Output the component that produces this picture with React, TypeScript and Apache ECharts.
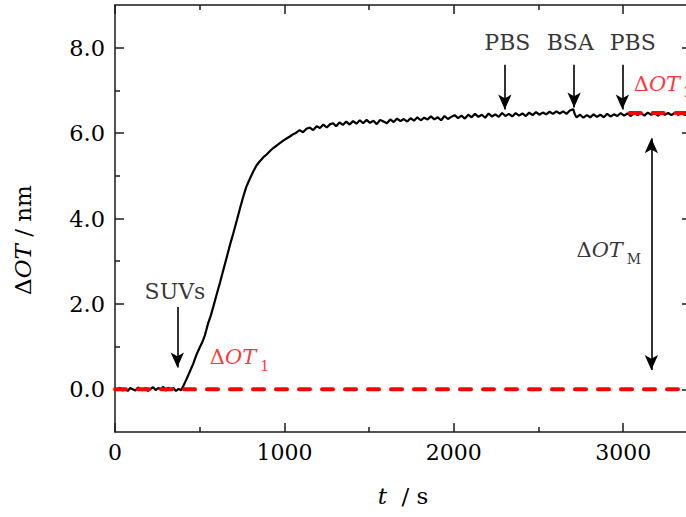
import React, { useEffect, useRef } from "react";
import * as echarts from "echarts";

// ---- data ----
const timeS = [
  0, 15, 30, 45, 60, 75, 90, 105, 120, 135, 150, 165, 180, 195, 210, 225, 240, 255, 270, 285, 300, 315, 330, 345, 360, 375, 390,
  400, 420, 440, 462, 480, 500, 515, 531, 550, 565, 580, 600, 620, 639, 660, 680, 698, 720, 740, 757, 775, 796, 816, 835, 855,
  875, 895, 915, 934, 955, 975, 995, 1015, 1032, 1050, 1070, 1090, 1110, 1130, 1150, 1170, 1190, 1210, 1230, 1250, 1270, 1288,
  1305, 1325, 1345, 1365, 1385, 1405, 1425, 1445, 1465, 1485, 1505, 1525, 1545, 1565, 1585, 1605, 1625, 1645, 1665, 1685, 1705,
  1725, 1745, 1765, 1785, 1805, 1825, 1845, 1865, 1885, 1905, 1925, 1945, 1965, 1985, 2005, 2025, 2045, 2065, 2085, 2105, 2125,
  2145, 2165, 2185, 2205, 2225, 2245, 2265, 2285, 2305, 2325, 2345, 2365, 2385, 2405, 2425, 2445, 2465, 2485, 2505, 2525, 2545,
  2565, 2585, 2605, 2625, 2645, 2665, 2685, 2705, 2715, 2725, 2745, 2765, 2785, 2805, 2825, 2845, 2865, 2885, 2905, 2925, 2945,
  2965, 2985, 3005, 3025, 3045, 3065, 3085, 3105, 3125, 3145, 3165, 3185, 3205, 3225, 3245, 3265, 3285, 3305, 3325, 3345, 3365,
  3385, 3400,
];
const deltaOT = [
  0.02, -0.02, 0.04, -0.03, 0.01, -0.04, 0.03, 0.0, -0.03, 0.04, 0.01, -0.02, 0.03, -0.04, 0.01, 0.05, -0.02, 0.03, 0.0, 0.06, -0.03, 0.04, 0.0, 0.03, -0.04, 0.01, -0.02,
  0.05, 0.22, 0.4, 0.6, 0.8, 0.98, 1.1, 1.27, 1.55, 1.72, 1.93, 2.22, 2.5, 2.79, 3.1, 3.4, 3.65, 3.97, 4.27, 4.51, 4.74, 4.93, 5.1, 5.24, 5.34,
  5.43, 5.5, 5.58, 5.65, 5.71, 5.77, 5.83, 5.88, 5.92, 5.97, 6.01, 6.07, 6.02, 6.1, 6.13, 6.07, 6.16, 6.12, 6.2, 6.13, 6.21, 6.23,
  6.16, 6.25, 6.19, 6.27, 6.2, 6.28, 6.22, 6.3, 6.23, 6.31, 6.24, 6.29, 6.21, 6.31, 6.27, 6.23, 6.32, 6.26, 6.34, 6.28, 6.33,
  6.27, 6.35, 6.29, 6.37, 6.3, 6.36, 6.32, 6.39, 6.32, 6.37, 6.3, 6.4, 6.33, 6.38, 6.42, 6.35, 6.41, 6.34, 6.43, 6.37, 6.45,
  6.38, 6.43, 6.36, 6.46, 6.39, 6.44, 6.38, 6.47, 6.4, 6.45, 6.39, 6.47, 6.41, 6.46, 6.4, 6.48, 6.42, 6.49, 6.43, 6.48, 6.44,
  6.5, 6.45, 6.51, 6.46, 6.51, 6.45, 6.53, 6.56, 6.43, 6.37, 6.43, 6.36, 6.42, 6.37, 6.44, 6.38, 6.43, 6.37, 6.45, 6.39, 6.44,
  6.4, 6.47, 6.41, 6.46, 6.4, 6.48, 6.42, 6.47, 6.41, 6.48, 6.43, 6.47, 6.41, 6.48, 6.43, 6.47, 6.42, 6.48, 6.43, 6.47, 6.42,
  6.47, 6.44,
];

const xMajorTicks = [0, 1000, 2000, 3000];
const xMinorTicks = [500, 1500, 2500];
const yMajorTicks = [0, 2, 4, 6, 8];
const yMinorTicks = [1, 3, 5, 7];

const baselineLevel1 = [[0, 0], [3400, 0]];
const baselineLevel2 = [[3038, 6.47], [3400, 6.47]];

// arrows: x, from y, to y, double-headed?
const arrowX = [368, 2301, 2710, 2995, 3166];
const arrowFrom = [1.93, 7.6, 7.6, 7.6, 5.88];
const arrowTo = [0.51, 6.55, 6.6, 6.55, 0.45];
const arrowDouble = [false, false, false, false, true];

const plainLabelText = ["SUVs", "PBS", "BSA", "PBS"];
const plainLabelX = [354, 2316, 2687, 3056];
const plainLabelY = [2.28, 8.12, 8.12, 8.12];

const deltaLabelSub = ["1", "2", "M"];
const deltaLabelX = [560, 3062, 2724];
const deltaLabelY = [1.0, 7.4, 3.5];
const deltaLabelRed = [true, true, false];

const FONT = "DejaVu Serif";
const RED = "#ff0000";
const INK = "#000";

function deltaRich(color: string) {
  return {
    d: { fontFamily: FONT, fontSize: 21, color, lineHeight: 26, verticalAlign: "top" },
    i: { fontFamily: FONT, fontSize: 21, fontStyle: "italic", color, lineHeight: 26, verticalAlign: "top" },
    s: { fontFamily: FONT, fontSize: 14, color, lineHeight: 14, padding: [18, 0, 0, 4], verticalAlign: "bottom" },
  };
}

export default function App() {
  const ref = useRef<HTMLDivElement>(null);
  useEffect(() => {
    if (!ref.current) return;
    const chart = echarts.init(ref.current, null, { renderer: "svg" });
    const lineData = timeS.map((t, i) => [t, deltaOT[i]]);
    const axisLineStyle = { color: "#1a1a1a", width: 1.5 };

    const xBase = { type: "value", min: 0, max: 3400, gridIndex: 0, splitLine: { show: false } };
    const yBase = { type: "value", min: -1, max: 9, gridIndex: 0, splitLine: { show: false } };

    const markData = arrowX.map((x, i) => [
      { coord: [x, arrowFrom[i]], symbol: arrowDouble[i] ? "arrow" : "none" },
      { coord: [x, arrowTo[i]], symbol: "arrow" },
    ]);

    const labelItems: any[] = [];
    plainLabelText.forEach((t, i) => {
      labelItems.push({
        value: [plainLabelX[i], plainLabelY[i]],
        label: {
          show: true,
          position: "inside",
          formatter: t,
          fontFamily: FONT,
          fontSize: 22,
          color: INK,
        },
      });
    });
    deltaLabelSub.forEach((s, i) => {
      const color = deltaLabelRed[i] ? RED : INK;
      labelItems.push({
        value: [deltaLabelX[i], deltaLabelY[i]],
        label: {
          show: true,
          position: [0, 0],
          align: "left",
          verticalAlign: "top",
          formatter: `{d|Δ}{i|OT}{s|${s}}`,
          rich: deltaRich(color),
        },
      });
    });

    const option: any = {
      animation: false,
      backgroundColor: "#fff",
      grid: { left: 115, right: -5, top: 5, bottom: 85, containLabel: false, outerBoundsMode: "none" },
      xAxis: [
        {
          ...xBase,
          position: "bottom",
          axisLine: { show: true, onZero: false, lineStyle: axisLineStyle },
          axisTick: { show: true, inside: true, length: 9, customValues: xMajorTicks, lineStyle: axisLineStyle },
          axisLabel: {
            show: true,
            customValues: xMajorTicks,
            margin: 9,
            fontFamily: FONT,
            fontSize: 22,
            color: INK,
            formatter: (v: number) => String(v),
          },
          name: "{i|t}{n|  / s}",
          nameLocation: "middle",
          nameGap: 52,
          nameTextStyle: {
            rich: {
              i: { fontFamily: FONT, fontSize: 23, fontStyle: "italic", color: INK },
              n: { fontFamily: FONT, fontSize: 23, color: INK },
            },
          },
        },
        {
          ...xBase,
          position: "bottom",
          axisLine: { show: false, onZero: false },
          axisTick: { show: true, inside: true, length: 5, customValues: xMinorTicks, lineStyle: axisLineStyle },
          axisLabel: { show: false },
        },
        {
          ...xBase,
          position: "top",
          axisLine: { show: true, onZero: false, lineStyle: axisLineStyle },
          axisTick: { show: true, inside: true, length: 9, customValues: xMajorTicks, lineStyle: axisLineStyle },
          axisLabel: { show: false },
        },
        {
          ...xBase,
          position: "top",
          axisLine: { show: false, onZero: false },
          axisTick: { show: true, inside: true, length: 5, customValues: xMinorTicks, lineStyle: axisLineStyle },
          axisLabel: { show: false },
        },
      ],
      yAxis: [
        {
          ...yBase,
          position: "left",
          axisLine: { show: true, onZero: false, lineStyle: axisLineStyle },
          axisTick: { show: true, inside: true, length: 9, customValues: yMajorTicks, lineStyle: axisLineStyle },
          axisLabel: {
            show: true,
            customValues: yMajorTicks,
            margin: 10,
            fontFamily: FONT,
            fontSize: 22.5,
            color: INK,
            formatter: (v: number) => v.toFixed(1),
          },
        },
        {
          ...yBase,
          position: "left",
          axisLine: { show: false, onZero: false },
          axisTick: { show: true, inside: true, length: 5, customValues: yMinorTicks, lineStyle: axisLineStyle },
          axisLabel: { show: false },
        },
        {
          ...yBase,
          position: "right",
          axisLine: { show: true, onZero: false, lineStyle: axisLineStyle },
          axisTick: { show: true, inside: true, length: 9, customValues: yMajorTicks, lineStyle: axisLineStyle },
          axisLabel: { show: false },
        },
        {
          ...yBase,
          position: "right",
          axisLine: { show: false, onZero: false },
          axisTick: { show: true, inside: true, length: 5, customValues: yMinorTicks, lineStyle: axisLineStyle },
          axisLabel: { show: false },
        },
      ],
      graphic: [
        {
          type: "text",
          x: 23,
          y: 240,
          rotation: Math.PI / 2,
          style: {
            text: "{d|Δ}{i|OT}{n| / nm}",
            align: "center",
            verticalAlign: "middle",
            rich: {
              d: { fontFamily: FONT, fontSize: 23, fill: INK },
              i: { fontFamily: FONT, fontSize: 23, fontStyle: "italic", fill: INK },
              n: { fontFamily: FONT, fontSize: 23, fill: INK },
            },
          },
        },
      ],
      series: [
        {
          type: "line",
          xAxisIndex: 0,
          yAxisIndex: 0,
          data: lineData,
          symbol: "none",
          silent: true,
          z: 2,
          lineStyle: { color: "#000", width: 2.2 },
          markLine: {
            silent: true,
            animation: false,
            symbolSize: [10, 15],
            label: { show: false },
            lineStyle: { color: "#000", width: 1.6, type: "solid" },
            emphasis: { disabled: true },
            data: markData,
          },
        },
        {
          type: "line",
          xAxisIndex: 0,
          yAxisIndex: 0,
          data: baselineLevel1,
          symbol: "none",
          silent: true,
          z: 3,
          lineStyle: { color: RED, width: 4, type: [11, 12], cap: "round" },
        },
        {
          type: "line",
          xAxisIndex: 0,
          yAxisIndex: 0,
          data: baselineLevel2,
          symbol: "none",
          silent: true,
          z: 3,
          lineStyle: { color: RED, width: 4, type: [11, 12], cap: "round" },
        },
        {
          type: "scatter",
          xAxisIndex: 0,
          yAxisIndex: 0,
          symbolSize: 0,
          silent: true,
          z: 4,
          data: labelItems,
        },
      ],
    };
    chart.setOption(option);
    return () => chart.dispose();
  }, []);
  return (
    <div
      ref={ref}
      style={{ position: "absolute", left: 0, top: 0, width: 686, height: 517, background: "#fff" }}
    />
  );
}
